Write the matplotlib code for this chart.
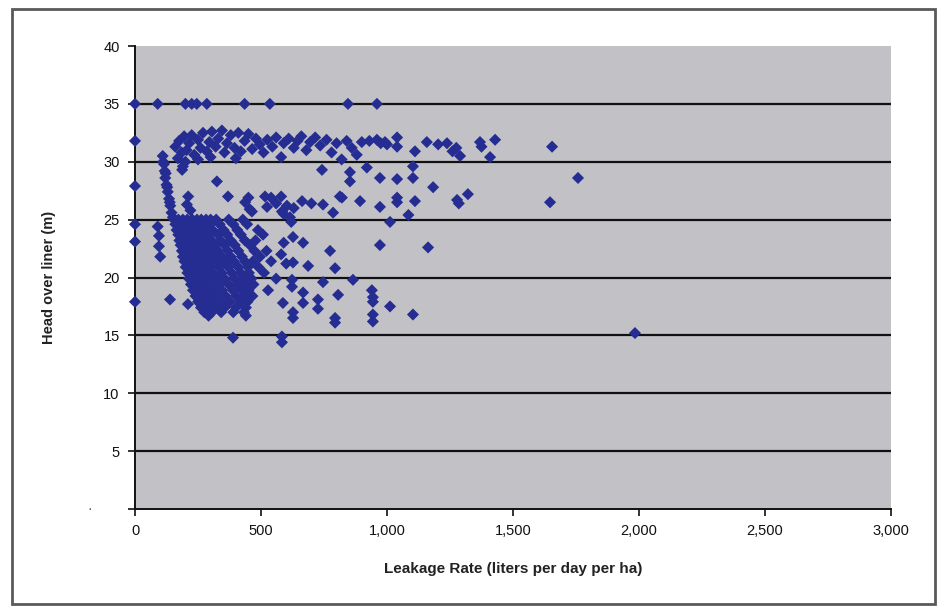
import matplotlib
matplotlib.use("Agg")
import matplotlib.pyplot as plt
from matplotlib.patches import Rectangle
from matplotlib.ticker import FuncFormatter

# ---- data ----
row35_x = [0, 90, 200, 225, 245, 285, 435, 535, 845, 960]
row35_y = [35, 35, 35, 35, 35, 35, 35, 35, 35, 35]

col0_x = [0, 0, 0, 0, 0]
col0_y = [31.8, 27.9, 24.6, 23.1, 17.9]

col90_x = [90, 95, 95, 100]
col90_y = [24.4, 23.6, 22.7, 21.8]

arc_x = [110, 115, 118, 120, 125, 130, 135, 140, 145, 150, 112, 122, 128, 138,
         187, 325, 211, 206, 220, 369]
arc_y = [30.5, 29.8, 29.2, 28.6, 28.0, 27.4, 26.8, 26.2, 25.6, 25.2, 30.0, 29.0, 27.8, 26.5,
         29.3, 28.3, 27.0, 26.3, 25.8, 27.0]

upper_x = [160, 175, 185, 195, 205, 215, 225, 235, 250, 260, 270, 285, 295, 305, 320,
           330, 345, 355, 365, 380, 395, 410, 420, 435, 450, 465, 480, 495, 510, 525,
           545, 560, 580, 590, 610, 630, 645, 660, 680, 695, 715, 735, 760, 780, 800,
           820, 840, 860, 880, 900, 930, 960, 975, 1000, 250, 300, 400, 170, 190, 200,
           992, 1040, 1040, 1111, 1158, 1203, 1238, 1260, 1290, 1275, 1369, 1375, 1429,
           1409, 1655]
upper_y = [31.3, 31.8, 30.8, 32.2, 31.0, 31.6, 32.3, 30.6, 31.9, 31.2, 32.5, 30.9, 31.7, 32.6, 31.3,
           32.0, 32.7, 30.8, 31.6, 32.3, 31.2, 32.5, 30.9, 31.8, 32.4, 31.1, 32.0, 31.5, 30.8, 31.9,
           31.3, 32.1, 30.4, 31.6, 32.0, 31.2, 31.8, 32.2, 31.0, 31.7, 32.1, 31.4, 31.9, 30.8, 31.6,
           30.2, 31.8, 31.2, 30.6, 31.7, 31.8, 31.9, 31.6, 31.5, 30.2, 30.4, 30.3, 30.3, 29.6, 30.0,
           31.7, 32.1, 31.3, 30.9, 31.7, 31.5, 31.6, 30.9, 30.5, 31.2, 31.7, 31.3, 31.9,
           30.4, 31.3]

middle_x = [742, 853, 853, 920, 972, 1040, 1103, 1103, 1183, 1278, 1285, 1321, 450, 455,
            524, 540, 560, 580, 603, 590, 615, 630, 663, 746, 786, 813, 821, 893, 972,
            1040, 1040, 1111, 1085, 1012, 437, 464, 516, 583, 620, 700, 1758, 1647]
middle_y = [29.3, 29.1, 28.3, 29.5, 28.6, 28.5, 29.6, 28.6, 27.8, 26.7, 26.4, 27.2, 26.9, 25.9,
            26.1, 26.9, 26.4, 27.0, 26.2, 25.5, 25.2, 26.0, 26.6, 26.3, 25.6, 27.0, 26.9, 26.6, 26.1,
            26.9, 26.5, 26.6, 25.4, 24.8, 26.5, 25.7, 27.0, 25.7, 24.8, 26.4, 28.6, 26.5]

scatter_x = [972, 1163, 774, 667, 627, 590, 580, 600, 627, 687, 794, 746, 865, 940, 944,
             944, 1012, 1103, 944, 944, 794, 794, 806, 726, 726, 667, 667, 627, 627, 587,
             623, 623, 389, 583, 583, 1984, 139, 210]
scatter_y = [22.8, 22.6, 22.3, 23.0, 23.5, 23.0, 22.0, 21.2, 21.3, 21.0, 20.8, 19.6, 19.8, 18.9, 18.3,
             17.9, 17.5, 16.8, 16.8, 16.2, 16.5, 16.1, 18.5, 18.1, 17.3, 18.7, 17.8, 17.0, 16.5, 17.8,
             19.8, 19.2, 14.8, 14.9, 14.4, 15.2, 18.1, 17.7]

cluster_rows_y = [25.0, 24.6, 24.1, 23.7, 23.2, 22.8, 22.3, 21.8, 21.4, 20.9, 20.4,
                  19.9, 19.4, 18.9, 18.4, 17.9, 17.4, 17.0, 16.7]
cluster_rows_x = [
    [155, 172, 190, 207, 228, 246, 263, 282, 300, 322, 372, 428],
    [160, 182, 200, 219, 238, 258, 276, 298, 336, 390, 445],
    [165, 186, 206, 224, 246, 266, 288, 308, 352, 406, 488],
    [172, 192, 213, 232, 254, 272, 296, 330, 366, 420, 508],
    [176, 196, 218, 238, 260, 282, 304, 340, 380, 436, 478],
    [181, 202, 222, 246, 268, 290, 318, 356, 396, 456],
    [186, 207, 229, 250, 274, 298, 330, 368, 410, 474, 522],
    [190, 212, 234, 257, 280, 310, 344, 380, 424, 496],
    [196, 218, 240, 264, 290, 322, 356, 392, 436, 468, 540],
    [201, 224, 248, 272, 300, 334, 370, 410, 448, 490],
    [208, 230, 254, 280, 310, 344, 384, 420, 452, 512],
    [214, 238, 262, 290, 322, 356, 396, 432, 462, 560],
    [222, 246, 270, 300, 334, 372, 410, 440, 470],
    [230, 255, 282, 312, 346, 388, 424, 450, 528],
    [240, 264, 292, 324, 360, 400, 436, 466],
    [250, 276, 304, 338, 376, 420, 446],
    [262, 290, 320, 356, 400, 440],
    [275, 305, 342, 390, 432],
    [292, 440],
]

x_ticks = [0, 500, 1000, 1500, 2000, 2500, 3000]
y_ticks = [0, 5, 10, 15, 20, 25, 30, 35, 40]
x_label = "Leakage Rate (liters per day per ha)"
y_label = "Head over liner (m)"

# ---- assemble ----
xs = row35_x + col0_x + col90_x + arc_x + upper_x + middle_x + scatter_x
ys = row35_y + col0_y + col90_y + arc_y + upper_y + middle_y + scatter_y
for yv, xr in zip(cluster_rows_y, cluster_rows_x):
    xs += xr
    ys += [yv] * len(xr)

plt.rcParams['font.family'] = ['Liberation Sans', 'DejaVu Sans']

fig = plt.figure(figsize=(9.41, 6.08), dpi=100)
fig.patch.set_facecolor('white')
ax = fig.add_axes([135/941, 1-509/608, (891-135)/941, (509-46)/608])
ax.set_facecolor('#c2c2c6')

for g in y_ticks[1:-1]:
    ax.axhline(g, color='#111111', lw=1.6, zorder=1)

ax.scatter(xs, ys, marker='D', s=38, color='#252d92', edgecolors='none',
           zorder=3, clip_on=False)

ax.set_xlim(0, 3000)
ax.set_ylim(0, 40)
ax.set_xticks(x_ticks)
ax.set_yticks(y_ticks)
ax.xaxis.set_major_formatter(FuncFormatter(lambda v, p: f"{int(v):,}"))
ax.yaxis.set_major_formatter(FuncFormatter(lambda v, p: "" if v == 0 else f"{int(v)}"))
ax.tick_params(axis='both', labelsize=10.5, colors='#111111', length=5, width=1.2)
ax.tick_params(axis='x', pad=6)
ax.tick_params(axis='y', pad=6)
for s in ['top', 'right']:
    ax.spines[s].set_visible(False)
for s in ['left', 'bottom']:
    ax.spines[s].set_color('#111111')
    ax.spines[s].set_linewidth(1.4)
    ax.spines[s].set_zorder(2)

ax.set_xlabel(x_label, fontsize=11, fontweight='bold', labelpad=17, color='#222222')
ax.set_ylabel(y_label, fontsize=10.5, fontweight='bold', labelpad=34, color='#222222')
fig.text(90/941, 1-509/608, '·', fontsize=10, ha='center', va='center', color='#555555')

fig.patches.append(Rectangle((12/941, 4/608), (935-12)/941, (599-4)/608,
                             transform=fig.transFigure, fill=False,
                             edgecolor='#5a5a5a', lw=2))

fig.savefig('out.png', dpi=100)
